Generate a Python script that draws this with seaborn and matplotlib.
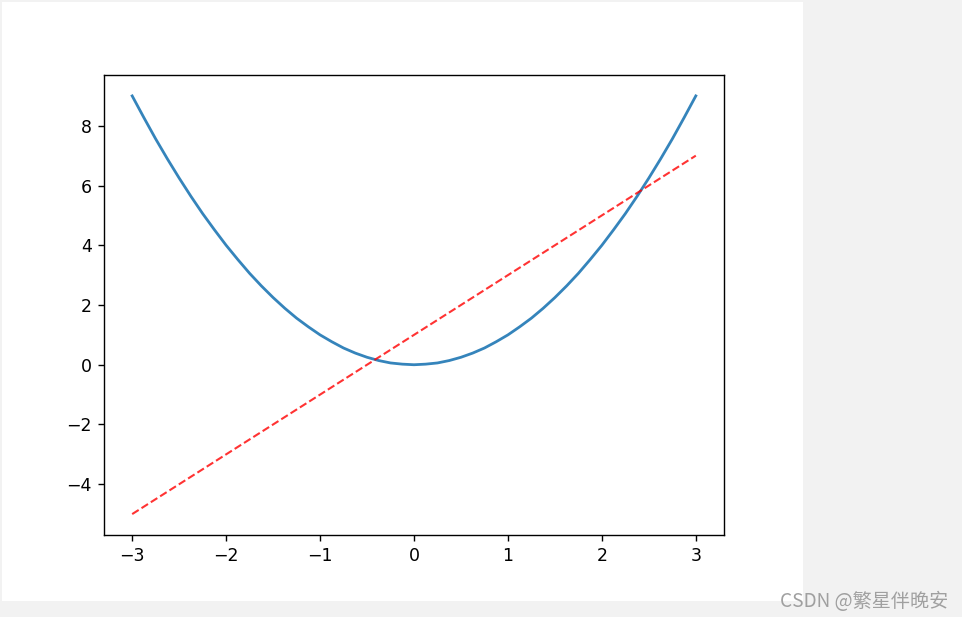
import matplotlib
matplotlib.use("Agg")
import matplotlib.pyplot as plt
import seaborn as sns
import pandas as pd
from matplotlib.patches import Rectangle

# data
curve_x = [-3, -2.875, -2.75, -2.625, -2.5, -2.375, -2.25, -2.125, -2, -1.875,
           -1.75, -1.625, -1.5, -1.375, -1.25, -1.125, -1, -0.875, -0.75, -0.625,
           -0.5, -0.375, -0.25, -0.125, 0, 0.125, 0.25, 0.375, 0.5, 0.625, 0.75,
           0.875, 1, 1.125, 1.25, 1.375, 1.5, 1.625, 1.75, 1.875, 2, 2.125, 2.25,
           2.375, 2.5, 2.625, 2.75, 2.875, 3]
curve_y = [9, 8.27, 7.56, 6.89, 6.25, 5.64, 5.06, 4.52, 4, 3.52,
           3.06, 2.64, 2.25, 1.89, 1.56, 1.27, 1, 0.77, 0.56, 0.39,
           0.25, 0.14, 0.06, 0.02, 0, 0.02, 0.06, 0.14, 0.25, 0.39, 0.56,
           0.77, 1, 1.27, 1.56, 1.89, 2.25, 2.64, 3.06, 3.52, 4, 4.52, 5.06,
           5.64, 6.25, 6.89, 7.56, 8.27, 9]
line_x = [-3, 3]
line_y = [-5, 7]
x_ticks = [-3, -2, -1, 0, 1, 2, 3]
y_ticks = [-4, -2, 0, 2, 4, 6, 8]

curve_df = pd.DataFrame({"x": curve_x, "y": curve_y})
line_df = pd.DataFrame({"x": line_x, "y": line_y})

W, H, DPI = 962, 617, 125
fig = plt.figure(figsize=(W / DPI, H / DPI), dpi=DPI)
fig.patch.set_facecolor("#f2f2f2")
bg = Rectangle((2 / W, 1 - 601 / H), 801 / W, 599 / H,
               transform=fig.transFigure, facecolor="white",
               edgecolor="none", zorder=-10)
fig.add_artist(bg)

ax = fig.add_axes([104 / W, 1 - 535 / H, 620 / W, 460 / H])
ax.set_zorder(1)
sns.lineplot(data=curve_df, x="x", y="y", ax=ax, color="#1f77b4", alpha=0.9,
             linewidth=1.6, sort=False, estimator=None)
sns.lineplot(data=line_df, x="x", y="y", ax=ax, color="red", alpha=0.8,
             linewidth=1.2, linestyle="--", sort=False, estimator=None)
ax.set_xticks(x_ticks)
ax.set_yticks(y_ticks)
ax.set_xticklabels([f"\u2212{abs(t)}" if t < 0 else str(t) for t in x_ticks])
ax.set_yticklabels([f"\u2212{abs(t)}" if t < 0 else str(t) for t in y_ticks])
ax.set_xlabel("")
ax.set_ylabel("")
ax.set_xlim(-3.3, 3.3)
ax.set_ylim(-5.7, 9.7)

fig.text(948 / W, 1 - 607 / H, "CSDN @繁星伴晚安", ha="right", va="baseline",
         color="#a0a0a0", fontsize=11,
         family=["Noto Sans CJK SC", "DejaVu Sans"])

fig.savefig("out.png", dpi=DPI, facecolor=fig.get_facecolor())
